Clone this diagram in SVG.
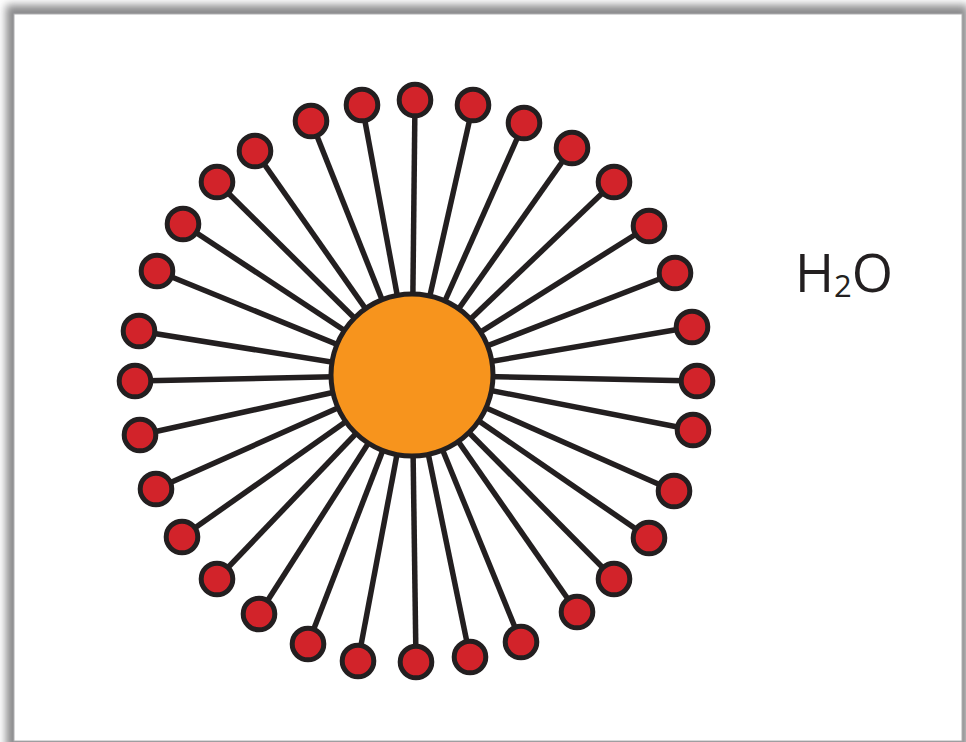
<svg xmlns="http://www.w3.org/2000/svg" width="966" height="742" viewBox="0 0 966 742">
  <defs>
    <filter id="sh" x="-5%" y="-5%" width="110%" height="110%">
      <feGaussianBlur stdDeviation="4"/>
    </filter>
    <style>
      .tail { stroke: #231F20; stroke-width: 5.5; fill: none; }
      .head { fill: #D2232A; stroke: #231F20; stroke-width: 5; }
      .core { fill: #F7941D; stroke: #231F20; stroke-width: 5; }
      .lbl { font-family: "Open Sans", "Liberation Sans", sans-serif; fill: #231F20; }
    </style>
  </defs>
  <rect x="0" y="0" width="966" height="742" fill="#ffffff"/>
  <rect x="6" y="5" width="962" height="745" fill="#8a8a8c" filter="url(#sh)"/>
  <rect x="14" y="14" width="948" height="727" fill="#ffffff" stroke="#b0b0b2" stroke-width="1"/>

  <g id="connectors">
    <line class="tail" x1="415" y1="100" x2="412" y2="375"/>
    <line class="tail" x1="473" y1="105" x2="412" y2="375"/>
    <line class="tail" x1="524" y1="123" x2="412" y2="375"/>
    <line class="tail" x1="572" y1="148" x2="412" y2="375"/>
    <line class="tail" x1="614" y1="182" x2="412" y2="375"/>
    <line class="tail" x1="649" y1="226" x2="412" y2="375"/>
    <line class="tail" x1="675" y1="273" x2="412" y2="375"/>
    <line class="tail" x1="692" y1="327" x2="412" y2="375"/>
    <line class="tail" x1="697" y1="381" x2="412" y2="375"/>
    <line class="tail" x1="693" y1="430" x2="412" y2="375"/>
    <line class="tail" x1="674" y1="491" x2="412" y2="375"/>
    <line class="tail" x1="649" y1="538" x2="412" y2="375"/>
    <line class="tail" x1="614" y1="579" x2="412" y2="375"/>
    <line class="tail" x1="577" y1="612" x2="412" y2="375"/>
    <line class="tail" x1="521" y1="642" x2="412" y2="375"/>
    <line class="tail" x1="470" y1="657" x2="412" y2="375"/>
    <line class="tail" x1="416" y1="662" x2="412" y2="375"/>
    <line class="tail" x1="358" y1="661" x2="412" y2="375"/>
    <line class="tail" x1="308" y1="644" x2="412" y2="375"/>
    <line class="tail" x1="259" y1="614" x2="412" y2="375"/>
    <line class="tail" x1="217" y1="579" x2="412" y2="375"/>
    <line class="tail" x1="182" y1="537" x2="412" y2="375"/>
    <line class="tail" x1="156" y1="489" x2="412" y2="375"/>
    <line class="tail" x1="140" y1="435" x2="412" y2="375"/>
    <line class="tail" x1="135" y1="381" x2="412" y2="375"/>
    <line class="tail" x1="139" y1="331" x2="412" y2="375"/>
    <line class="tail" x1="157" y1="271" x2="412" y2="375"/>
    <line class="tail" x1="183" y1="224" x2="412" y2="375"/>
    <line class="tail" x1="217" y1="182" x2="412" y2="375"/>
    <line class="tail" x1="255" y1="151" x2="412" y2="375"/>
    <line class="tail" x1="311" y1="121" x2="412" y2="375"/>
    <line class="tail" x1="362" y1="105" x2="412" y2="375"/>
  </g>

  <g id="core"><circle class="core" cx="412" cy="375" r="81"/></g>

  <g id="head1"><circle class="head" cx="415" cy="100" r="15.8"/></g>
  <g id="head2"><circle class="head" cx="473" cy="105" r="15.8"/></g>
  <g id="head3"><circle class="head" cx="524" cy="123" r="15.8"/></g>
  <g id="head4"><circle class="head" cx="572" cy="148" r="15.8"/></g>
  <g id="head5"><circle class="head" cx="614" cy="182" r="15.8"/></g>
  <g id="head6"><circle class="head" cx="649" cy="226" r="15.8"/></g>
  <g id="head7"><circle class="head" cx="675" cy="273" r="15.8"/></g>
  <g id="head8"><circle class="head" cx="692" cy="327" r="15.8"/></g>
  <g id="head9"><circle class="head" cx="697" cy="381" r="15.8"/></g>
  <g id="head10"><circle class="head" cx="693" cy="430" r="15.8"/></g>
  <g id="head11"><circle class="head" cx="674" cy="491" r="15.8"/></g>
  <g id="head12"><circle class="head" cx="649" cy="538" r="15.8"/></g>
  <g id="head13"><circle class="head" cx="614" cy="579" r="15.8"/></g>
  <g id="head14"><circle class="head" cx="577" cy="612" r="15.8"/></g>
  <g id="head15"><circle class="head" cx="521" cy="642" r="15.8"/></g>
  <g id="head16"><circle class="head" cx="470" cy="657" r="15.8"/></g>
  <g id="head17"><circle class="head" cx="416" cy="662" r="15.8"/></g>
  <g id="head18"><circle class="head" cx="358" cy="661" r="15.8"/></g>
  <g id="head19"><circle class="head" cx="308" cy="644" r="15.8"/></g>
  <g id="head20"><circle class="head" cx="259" cy="614" r="15.8"/></g>
  <g id="head21"><circle class="head" cx="217" cy="579" r="15.8"/></g>
  <g id="head22"><circle class="head" cx="182" cy="537" r="15.8"/></g>
  <g id="head23"><circle class="head" cx="156" cy="489" r="15.8"/></g>
  <g id="head24"><circle class="head" cx="140" cy="435" r="15.8"/></g>
  <g id="head25"><circle class="head" cx="135" cy="381" r="15.8"/></g>
  <g id="head26"><circle class="head" cx="139" cy="331" r="15.8"/></g>
  <g id="head27"><circle class="head" cx="157" cy="271" r="15.8"/></g>
  <g id="head28"><circle class="head" cx="183" cy="224" r="15.8"/></g>
  <g id="head29"><circle class="head" cx="217" cy="182" r="15.8"/></g>
  <g id="head30"><circle class="head" cx="255" cy="151" r="15.8"/></g>
  <g id="head31"><circle class="head" cx="311" cy="121" r="15.8"/></g>
  <g id="head32"><circle class="head" cx="362" cy="105" r="15.8"/></g>

  <g id="label">
    <text class="lbl" x="795" y="292" font-size="53">H<tspan font-size="31" dy="5">2</tspan><tspan dy="-5">O</tspan></text>
  </g>
</svg>
